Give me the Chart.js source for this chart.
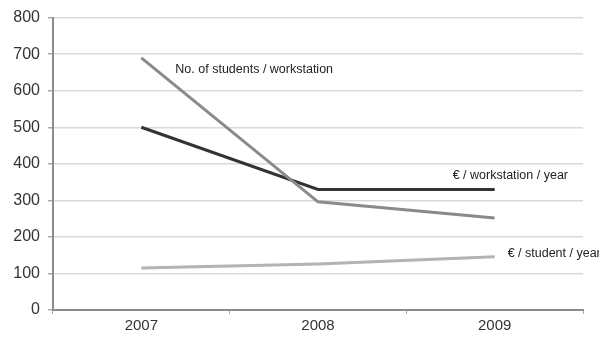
<!DOCTYPE html>
<html><head><meta charset="utf-8">
<script src="https://cdn.jsdelivr.net/npm/chart.js@4/dist/chart.umd.min.js"></script>
<style>html,body{margin:0;padding:0;background:#fff}#wrap{width:599px;height:338px}</style>
</head><body><div id="wrap"><canvas id="c"></canvas></div>
<script>
const categories = ['2007', '2008', '2009'];
const studentsPerWorkstation = [690, 296, 252];
const eurPerWorkstationYear = [500, 330, 330];
const eurPerStudentYear = [115, 126, 146];
const seriesLabels = ['No. of students / workstation', '€ / workstation / year', '€ / student / year'];

const labelPlugin = {
  id: 'lineLabels',
  afterDatasetsDraw(chart) {
    const {ctx, scales: {x, y}} = chart;
    ctx.save();
    ctx.font = '12.5px "Liberation Sans", Arial, sans-serif';
    ctx.fillStyle = '#222';
    ctx.textBaseline = 'middle';
    ctx.textAlign = 'left';
    ctx.fillText(seriesLabels[0], x.getPixelForValue(0) + 34, y.getPixelForValue(studentsPerWorkstation[0]) + 12);
    ctx.fillText(seriesLabels[1], x.getPixelForValue(2) - 42, y.getPixelForValue(eurPerWorkstationYear[2]) - 14);
    ctx.fillText(seriesLabels[2], x.getPixelForValue(2) + 13, y.getPixelForValue(eurPerStudentYear[2]) - 3);
    ctx.restore();
  }
};

new Chart(document.getElementById('c'), {
  type: 'line',
  data: {
    labels: categories,
    datasets: [
      {label: seriesLabels[0], data: studentsPerWorkstation, borderColor: '#8a8a8a', borderWidth: 3, pointRadius: 0, tension: 0},
      {label: seriesLabels[1], data: eurPerWorkstationYear, borderColor: '#333333', borderWidth: 3, pointRadius: 0, tension: 0},
      {label: seriesLabels[2], data: eurPerStudentYear, borderColor: '#b3b3b3', borderWidth: 3, pointRadius: 0, tension: 0}
    ]
  },
  options: {
    responsive: true,
    maintainAspectRatio: false,
    animation: false,
    layout: {padding: {top: 16, right: 16, left: 0, bottom: 0}},
    plugins: {legend: {display: false}, tooltip: {enabled: false}},
    scales: {
      x: {
        offset: true,
        grid: {offset: true, drawOnChartArea: false, drawTicks: true, tickLength: 4, color: '#aaa'},
        border: {color: '#8c8c8c', width: 2},
        ticks: {color: '#333', font: {family: '"Liberation Sans", Arial, sans-serif', size: 15}, padding: 3},
        afterFit(scale) { scale.height = 28; }
      },
      y: {
        min: 0, max: 800,
        ticks: {stepSize: 100, color: '#333', font: {family: '"Liberation Sans", Arial, sans-serif', size: 16}, padding: 8},
        grid: {color: '#d9d9d9', lineWidth: 1.5, tickLength: 5, tickColor: '#aaa'},
        border: {color: '#8c8c8c', width: 2},
        afterFit(scale) { scale.width = 53; }
      }
    }
  },
  plugins: [labelPlugin]
});
</script></body></html>
